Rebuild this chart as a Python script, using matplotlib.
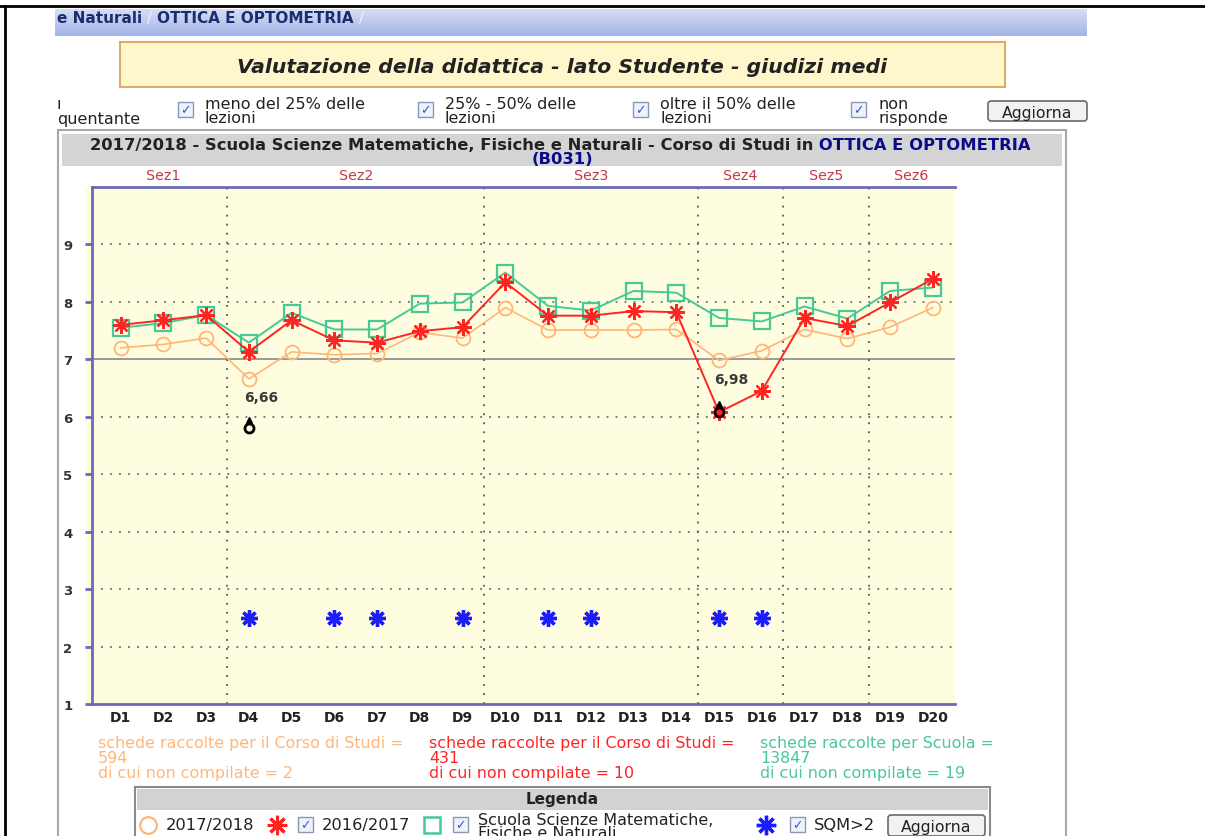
import numpy as np
import matplotlib
matplotlib.use('Agg')
import matplotlib.pyplot as plt
from matplotlib.patches import Rectangle, FancyBboxPatch
from matplotlib.transforms import offset_copy

# --- dati ---
domande = [f'D{i}' for i in range(1, 21)]
media_1718 = [7.20, 7.26, 7.37, 6.66, 7.13, 7.08, 7.10, 7.47, 7.37, 7.90,
              7.51, 7.51, 7.51, 7.52, 6.98, 7.15, 7.52, 7.36, 7.56, 7.90]
media_1617 = [7.60, 7.68, 7.77, 7.13, 7.68, 7.33, 7.29, 7.49, 7.56, 8.34,
              7.76, 7.76, 7.84, 7.82, 6.08, 6.45, 7.72, 7.58, 7.99, 8.40]
media_scuola = [7.55, 7.63, 7.77, 7.29, 7.81, 7.52, 7.52, 7.97, 7.99, 8.51,
                7.93, 7.85, 8.19, 8.16, 7.72, 7.66, 7.92, 7.71, 8.19, 8.25]
sqm_domande = ['D4', 'D6', 'D7', 'D9', 'D11', 'D12', 'D15', 'D16']
sqm_livello = 2.5
alert_domande = ['D4', 'D15']
alert_valori = [5.80, 6.08]
sezioni = ['Sez1', 'Sez2', 'Sez3', 'Sez4', 'Sez5', 'Sez6']
domande_per_sezione = [3, 6, 5, 2, 2, 2]
y_ticks = [1, 2, 3, 4, 5, 6, 7, 8, 9]

schede = {'1718': (594, 2), '1617': (431, 10), 'scuola': (13847, 19)}

ORANGE = '#ffb676'
RED = '#ff2424'
GREEN = '#46c994'
BLUE = '#1c1cff'
PURPLE = '#6b6bb5'
NAVY = '#0c0c8a'
TXT = '#222222'

W, H = 1205, 837
fig = plt.figure(figsize=(W / 100, H / 100), dpi=100)
fig.patch.set_facecolor('white')

# pagina (coordinate in pixel)
page = fig.add_axes([0, 0, 1, 1], zorder=-1)
page.set_xlim(0, W)
page.set_ylim(H, 0)
page.axis('off')
renderer = fig.canvas.get_renderer()


def chain(x, y, parts, **kw):
    for s, c, w in parts:
        t = page.text(x, y, s, color=c, fontweight=w, va='center', ha='left', **kw)
        x += t.get_window_extent(renderer=renderer).width


def checkbox(x, y):
    page.add_patch(Rectangle((x, y), 15, 15, facecolor='#eef2fa', edgecolor='#8a98b8', lw=1))
    page.text(x + 7.5, y + 8, '\u2713', color='#3a5ad0', fontsize=9, ha='center', va='center',
              fontweight='bold')


def button(x0, y0, x1, y1):
    page.add_patch(FancyBboxPatch((x0, y0), x1 - x0, y1 - y0, boxstyle='round,pad=0,rounding_size=3',
                                  facecolor='#f2f2f2', edgecolor='#6a6a6a', lw=1.2))
    page.text((x0 + x1) / 2, (y0 + y1) / 2 + 1, 'Aggiorna', fontsize=11.3, ha='center', va='center',
              color=TXT)


# cornice nera
page.plot([0, W], [7, 7], color='black', lw=2)
page.plot([5, 5], [7, H], color='black', lw=2)

# barra di navigazione
grad = np.linspace(0, 1, 30).reshape(-1, 1)
page.imshow(grad, extent=[55, 1087, 37, 10], cmap=matplotlib.colors.LinearSegmentedColormap.from_list(
    'bar', ['#d6def5', '#a3b3e6']), aspect='auto', zorder=0)
chain(57, 18, [('e Naturali', '#1c2c70', 'bold'), (' / ', '#eef1fb', 'normal'),
               ('OTTICA E OPTOMETRIA', '#1c2c70', 'bold'), (' /', '#eef1fb', 'normal')], fontsize=11)
page.set_xlim(0, W)
page.set_ylim(H, 0)

# titolo
page.add_patch(Rectangle((120, 43), 885, 45, facecolor='#fff7cc', edgecolor='#e2a865', lw=1.5))
page.text(562, 67, 'Valutazione della didattica - lato Studente - giudizi medi', fontsize=14.7,
          fontweight='bold', fontstyle='italic', ha='center', va='center', color=TXT)

# riga filtri
page.text(57, 104, '\u0131', fontsize=11.5, va='center', color=TXT)
page.text(57, 119, 'quentante', fontsize=11.5, va='center', color=TXT)
for cx, label in [(178, 'meno del 25% delle\nlezioni'), (418, '25% - 50% delle\nlezioni'),
                  (633, 'oltre il 50% delle\nlezioni'), (851, 'non\nrisponde')]:
    checkbox(cx, 103)
    page.text(cx + 27, 111.5, label, fontsize=11.5, va='center', ha='left', color=TXT, linespacing=0.85)
button(988, 102, 1087, 122)

# pannello del grafico
page.add_patch(Rectangle((58, 131), 1008, 720, facecolor='white', edgecolor='#a8a8a8', lw=1.5))
page.add_patch(Rectangle((62, 135), 1000, 32, facecolor='#d4d4d4', edgecolor='none'))
chain(90, 145, [('2017/2018 - Scuola Scienze Matematiche, Fisiche e Naturali - Corso di Studi in',
                 TXT, 'bold'), (' OTTICA E OPTOMETRIA', NAVY, 'bold')], fontsize=11.8)
page.text(562, 159, '(B031)', fontsize=11.8, fontweight='bold', color=NAVY, ha='center', va='center')
page.add_patch(Rectangle((85, 188), 7, 517, facecolor='#fffde0', edgecolor='none'))

# --- grafico ---
ax = fig.add_axes([92 / W, 1 - 705 / H, (955 - 92) / W, (705 - 188) / H])
ax.set_facecolor('#fffde0')
x = np.arange(1, len(domande) + 1)
pos = dict(zip(domande, x))

ax.set_xlim(0.33, 20.52)
ax.set_ylim(1, 10)
for yv in y_ticks[1:]:
    if yv == 7:
        ax.axhline(yv, color='#9a9a9a', lw=1.4, zorder=1)
    else:
        ax.axhline(yv, color='#6a6a80', lw=1.3, ls=(0, (1, 4)), zorder=1)

fine = np.cumsum(domande_per_sezione)
inizio = fine - np.array(domande_per_sezione) + 1
for b in fine[:-1] + 0.5:
    ax.axvline(b, color='#555555', lw=1.3, ls=(0, (1, 4)), zorder=1)
for nome, c in zip(sezioni, (inizio + fine) / 2):
    ax.text(c, 10.08, nome, color='#c23a4c', fontsize=10.3, ha='center', va='bottom', clip_on=False)

ax.plot(x, media_1718, color=ORANGE, lw=1.2, marker='o', ms=10, mfc='none', mew=1.3, zorder=3)
ax.plot(x, media_scuola, color=GREEN, lw=1.4, marker='s', ms=11, mfc='none', mew=1.6, zorder=4)
ax.plot(x, media_1617, color=RED, lw=1.4, marker=(8, 2, 0), ms=12, mew=1.6, zorder=5)
sx = [pos[d] for d in sqm_domande]
ax.plot(sx, [sqm_livello] * len(sx), ls='none', marker=(8, 2, 0), ms=12, mew=2.4, color=BLUE, zorder=5)

ax_x = [pos[d] for d in alert_domande]
ax.plot(ax_x, alert_valori, ls='none', marker='o', ms=6.5, mfc='none', mec='black', mew=2, zorder=6)
up = offset_copy(ax.transData, fig=fig, y=8, units='dots')
ax.plot(ax_x, alert_valori, ls='none', marker='^', ms=4, color='black', transform=up, zorder=6)
for d in alert_domande:
    v = media_1718[pos[d] - 1]
    ax.annotate(f'{v:.2f}'.replace('.', ','), (pos[d], v), xytext=(9, -13), textcoords='offset points',
                ha='center', va='center', fontsize=10, fontweight='bold', color='#3a3a3a')

ax.set_yticks(y_ticks)
ax.set_xticks(x)
ax.set_xticklabels(domande)
ax.tick_params(axis='y', length=5, width=2, color=PURPLE, pad=9, labelsize=9.5, labelcolor='#333333')
ax.tick_params(axis='x', length=0, pad=4, labelsize=10, labelcolor='#222222')
for lab in ax.get_xticklabels() + ax.get_yticklabels():
    lab.set_fontweight('bold')
for side in ['left', 'bottom', 'top']:
    ax.spines[side].set_color(PURPLE)
    ax.spines[side].set_linewidth(2)
ax.spines['right'].set_visible(False)

# conteggi schede
testi = [
    (98, ORANGE, f"schede raccolte per il Corso di Studi =\n{schede['1718'][0]}\n"
                 f"di cui non compilate = {schede['1718'][1]}"),
    (429, RED, f"schede raccolte per il Corso di Studi =\n{schede['1617'][0]}\n"
               f"di cui non compilate = {schede['1617'][1]}"),
    (760, GREEN, f"schede raccolte per Scuola =\n{schede['scuola'][0]}\n"
                 f"di cui non compilate = {schede['scuola'][1]}"),
]
for tx, col, s in testi:
    page.text(tx, 736, s, color=col, fontsize=11.4, va='top', ha='left', linespacing=0.98)

# legenda
page.add_patch(Rectangle((135, 788), 855, 60, facecolor='white', edgecolor='#8a8a8a', lw=1.5))
page.add_patch(Rectangle((137, 790), 851, 21, facecolor='#d2d2d2', edgecolor='none'))
page.text(562, 800, 'Legenda', fontsize=11, fontweight='bold', ha='center', va='center', color=TXT)
page.plot([148], [826], marker='o', ms=12, mfc='none', mec=ORANGE, mew=1.6)
page.text(166, 826, '2017/2018', fontsize=11.7, va='center', color=TXT)
page.plot([277], [826], marker=(8, 2, 0), ms=14, color=RED, mew=2.2)
checkbox(298, 818)
page.text(322, 826, '2016/2017', fontsize=11.7, va='center', color=TXT)
page.plot([432], [826], marker='s', ms=12, mfc='none', mec=GREEN, mew=1.8)
checkbox(453, 818)
page.text(478, 827, 'Scuola Scienze Matematiche,\nFisiche e Naturali', fontsize=11.5, va='center',
          color=TXT, linespacing=0.85)
page.plot([766], [826], marker=(8, 2, 0), ms=14, color=BLUE, mew=2.4)
checkbox(790, 818)
page.text(814, 826, 'SQM>2', fontsize=11.7, va='center', color=TXT)
button(888, 816, 985, 837)

fig.savefig('out.png', dpi=100)
